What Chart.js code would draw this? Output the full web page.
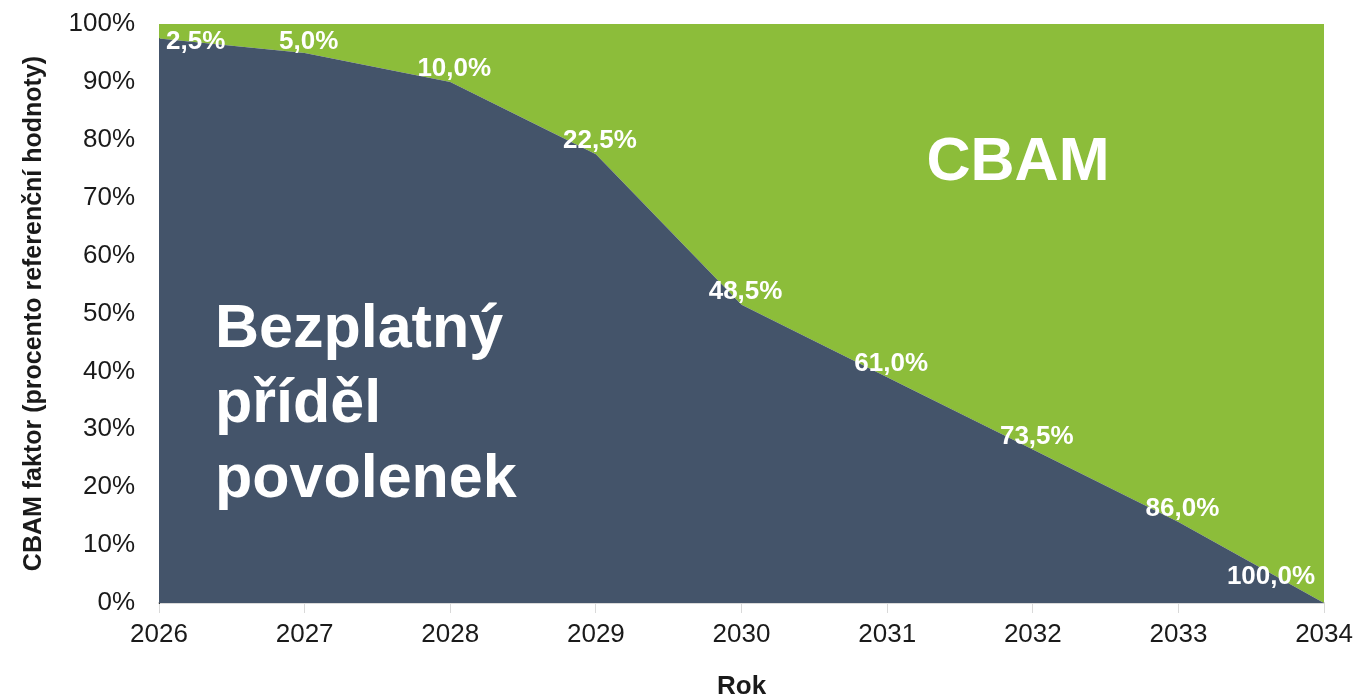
<!DOCTYPE html>
<html>
<head>
<meta charset="utf-8">
<script src="https://cdn.jsdelivr.net/npm/chart.js@4.4.1/dist/chart.umd.min.js"></script>
<style>
  html, body { margin: 0; padding: 0; background: #fff; }
  #wrap { width: 1359px; height: 697px; }
</style>
</head>
<body>
<div id="wrap"><canvas id="cbamChart" width="1359" height="697"></canvas></div>
<script>
// data
const years = ["2026", "2027", "2028", "2029", "2030", "2031", "2032", "2033", "2034"];
const cbamShare = [2.5, 5.0, 10.0, 22.5, 48.5, 61.0, 73.5, 86.0, 100.0];
const freeShare = [97.5, 95.0, 90.0, 77.5, 51.5, 39.0, 26.5, 14.0, 0.0];
const yTickValues = [0, 10, 20, 30, 40, 50, 60, 70, 80, 90, 100];

const DARK = "#44546A";
const GREEN = "#8CBD3A";
const FONT = "'Liberation Sans', Arial, sans-serif";

Chart.defaults.font.family = FONT;
Chart.defaults.color = "#1a1a1a";

// white value labels on the boundary + the two big area captions
const labelsPlugin = {
    id: "areaLabels",
    afterDatasetsDraw(chart) {
        const ctx = chart.ctx;
        const area = chart.chartArea;
        const meta = chart.getDatasetMeta(0);

        ctx.save();
        ctx.fillStyle = "#fff";
        ctx.font = "bold 26px " + FONT;
        ctx.textAlign = "center";
        ctx.textBaseline = "middle";
        meta.data.forEach((pt, i) => {
            const text = cbamShare[i].toFixed(1).replace(".", ",") + "%";
            const w = ctx.measureText(text).width;
            let x = pt.x + 4;
            let y = pt.y - 13;
            x = Math.max(area.left + 7 + w / 2, Math.min(area.right - 9 - w / 2, x));
            y = Math.max(area.top + 18, Math.min(area.bottom - 26, y));
            ctx.fillText(text, x, y);
        });

        // big captions
        ctx.font = "bold 61px " + FONT;
        ctx.textBaseline = "alphabetic";
        ctx.textAlign = "left";
        const lines = ["Bezplatný", "příděl", "povolenek"];
        lines.forEach((l, i) => ctx.fillText(l, area.left + 56, area.top + 323 + i * 75));
        ctx.textAlign = "center";
        ctx.fillText("CBAM", area.left + 859, area.top + 156);
        ctx.restore();
    }
};

new Chart(document.getElementById("cbamChart").getContext("2d"), {
    type: "line",
    data: {
        labels: years,
        datasets: [
            {
                label: "Bezplatný příděl povolenek",
                data: freeShare,
                backgroundColor: DARK,
                borderWidth: 0,
                pointRadius: 0,
                tension: 0,
                fill: "origin"
            },
            {
                label: "CBAM",
                data: cbamShare,
                backgroundColor: GREEN,
                borderWidth: 0,
                pointRadius: 0,
                tension: 0,
                fill: "-1"
            }
        ]
    },
    options: {
        responsive: false,
        animation: false,
        layout: { padding: { top: 24, right: 33, left: 0, bottom: 0 } },
        plugins: {
            legend: { display: false },
            tooltip: { enabled: false }
        },
        scales: {
            x: {
                offset: false,
                grid: {
                    drawOnChartArea: false,
                    drawTicks: true,
                    tickLength: 10,
                    color: "#d9d9d9"
                },
                border: { color: "#d9d9d9", width: 2 },
                ticks: {
                    font: { size: 26 },
                    padding: 6,
                    maxRotation: 0,
                    autoSkip: false
                },
                title: {
                    display: true,
                    text: "Rok",
                    font: { size: 26, weight: "bold", lineHeight: 0.8 },
                    padding: { top: 4, bottom: 0 }
                },
                afterFit(scale) { scale.height = 94; }
            },
            y: {
                stacked: true,
                min: 0,
                max: 100,
                afterBuildTicks(scale) { scale.ticks = yTickValues.map(v => ({ value: v })); },
                grid: { display: false, drawTicks: false },
                border: { color: "#333", width: 1 },
                ticks: {
                    font: { size: 26 },
                    padding: 24,
                    callback: v => v + "%"
                },
                title: {
                    display: true,
                    text: "CBAM faktor (procento referenční hodnoty)",
                    font: { size: 25, weight: "bold" },
                    padding: { top: 19, bottom: 0 }
                },
                afterFit(scale) {
                    scale.width = 159;
                    scale.paddingTop = 0;
                    scale.paddingBottom = 0;
                }
            }
        }
    },
    plugins: [labelsPlugin]
});
</script>
</body>
</html>
